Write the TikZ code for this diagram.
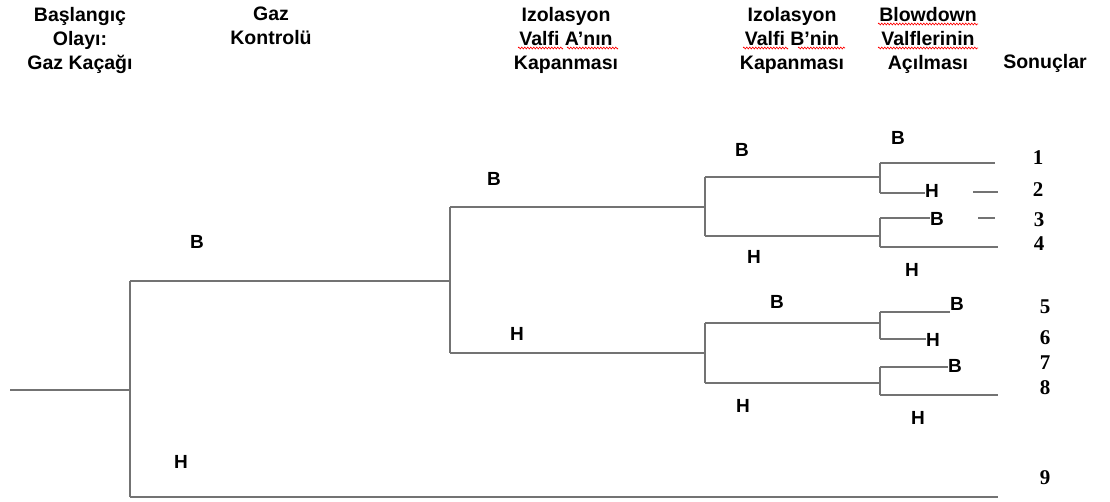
\documentclass[tikz,border=0pt]{standalone}
\usepackage{fontspec}
\setmainfont{Liberation Serif}
\newfontfamily\headfont{Liberation Sans}
\usetikzlibrary{decorations.pathmorphing}
\begin{document}
\begin{tikzpicture}[x=1pt,y=-1pt,
  branch/.style={draw=black!55, line width=1.5pt},
  hdr/.style={font=\headfont\bfseries\fontsize{19.5}{24}\selectfont, align=center, inner sep=0pt, anchor=north},
  lbl/.style={font=\headfont\bfseries\fontsize{19}{20}\selectfont, inner sep=0pt},
  num/.style={font=\bfseries\fontsize{21}{22}\selectfont, inner sep=0pt},
  spell/.style={draw=red, line width=0.6pt, decorate, decoration={zigzag, segment length=3pt, amplitude=1pt}}]
\useasboundingbox (0,0) rectangle (1110,501);

% column headings
\node[hdr] (hInit) at (80,7)  {Başlangıç\\Olayı:\\Gaz Kaçağı};
\node[hdr] (hGas)  at (271,7) {Gaz\\Kontrolü};
\node[hdr] (hA)    at (566,7) {Izolasyon\\Valfi A’nın\\Kapanması};
\node[hdr] (hB)    at (792,7) {Izolasyon\\Valfi B’nin\\Kapanması};
\node[hdr] (hBD)   at (928,7) {Blowdown\\Valflerinin\\Açılması};
\node[hdr, anchor=center] (hRes) at (1045,63) {Sonuçlar};

% spell-check underlines
\draw[spell] (518,48) -- (563,48);
\draw[spell] (567,48) -- (618,48);
\draw[spell] (743,48) -- (788,48);
\draw[spell] (798,48) -- (845,48);
\draw[spell] (878,24) -- (978,24);
\draw[spell] (878,48) -- (978,48);

% branch points
\coordinate (start) at (10,390);
\coordinate (j0) at (130,390);
\coordinate (j0t) at (130,281);
\coordinate (j0b) at (130,497);
\coordinate (j1) at (450,281);
\coordinate (j1t) at (450,207);
\coordinate (j1b) at (450,353);
\coordinate (j2) at (705,207);
\coordinate (j2t) at (705,177);
\coordinate (j2b) at (705,236);
\coordinate (j3) at (705,353);
\coordinate (j3t) at (705,323);
\coordinate (j3b) at (705,383);
\coordinate (j4) at (880,177);
\coordinate (j4t) at (880,163);
\coordinate (j4b) at (880,193);
\coordinate (j5) at (880,236);
\coordinate (j5t) at (880,218);
\coordinate (j5b) at (880,247);
\coordinate (j6) at (880,323);
\coordinate (j6t) at (880,312);
\coordinate (j6b) at (880,339);
\coordinate (j7) at (880,383);
\coordinate (j7t) at (880,367);
\coordinate (j7b) at (880,395);

% branch ends
\coordinate (e1) at (995,163);
\coordinate (e2s) at (973,192);
\coordinate (e2) at (998,192);
\coordinate (e3s) at (978,218);
\coordinate (e3) at (995,218);
\coordinate (e4) at (998,247);
\coordinate (e5) at (950,312);
\coordinate (e8) at (998,395);
\coordinate (e9) at (998,497);

% labels sitting on branch ends
\node[lbl] (h2) at (932,191) {H};
\node[lbl] (b3) at (937,219) {B};
\node[lbl] (b5) at (957,304) {B};
\node[lbl] (h6) at (933,340) {H};
\node[lbl] (b7) at (955,366) {B};

% tree
\draw[branch] (start) -- (j0);
\draw[branch] (j0t) -- (j0b);
\draw[branch] (j0t) -- (j1);
\draw[branch] (j0b) -- (e9);
\draw[branch] (j1t) -- (j1b);
\draw[branch] (j1t) -- (j2);
\draw[branch] (j1b) -- (j3);
\draw[branch] (j2t) -- (j2b);
\draw[branch] (j3t) -- (j3b);
\draw[branch] (j2t) -- (j4);
\draw[branch] (j2b) -- (j5);
\draw[branch] (j3t) -- (j6);
\draw[branch] (j3b) -- (j7);
\draw[branch] (j4t) -- (j4b);
\draw[branch] (j5t) -- (j5b);
\draw[branch] (j6t) -- (j6b);
\draw[branch] (j7t) -- (j7b);
\draw[branch] (j4t) -- (e1);
\draw[branch] (j4b) -- (j4b -| h2.west);
\draw[branch] (e2s) -- (e2);
\draw[branch] (j5t) -- (j5t -| b3.west);
\draw[branch] (e3s) -- (e3);
\draw[branch] (j5b) -- (e4);
\draw[branch] (j6t) -- (e5);
\draw[branch] (j6b) -- (j6b -| h6.west);
\draw[branch] (j7t) -- (j7t -| b7.west);
\draw[branch] (j7b) -- (e8);

% branch labels
\node[lbl] (lB0) at (197,242) {B};
\node[lbl] (lH0) at (181,462) {H};
\node[lbl] (lB1) at (494,179) {B};
\node[lbl] (lH1) at (517,334) {H};
\node[lbl] (lB2) at (742,150) {B};
\node[lbl] (lH2) at (754,257) {H};
\node[lbl] (lB3) at (777,302) {B};
\node[lbl] (lH3) at (743,406) {H};
\node[lbl] (lB4) at (898,138) {B};
\node[lbl] (lH4) at (912,270) {H};
\node[lbl] (lH5) at (918,418) {H};

% outcomes
\node[num] (o1) at (1038,158) {1};
\node[num] (o2) at (1038,190) {2};
\node[num] (o3) at (1039,220) {3};
\node[num] (o4) at (1039,244) {4};
\node[num] (o5) at (1045,307) {5};
\node[num] (o6) at (1045,338) {6};
\node[num] (o7) at (1045,363) {7};
\node[num] (o8) at (1045,388) {8};
\node[num] (o9) at (1045,478) {9};
\end{tikzpicture}
\end{document}
